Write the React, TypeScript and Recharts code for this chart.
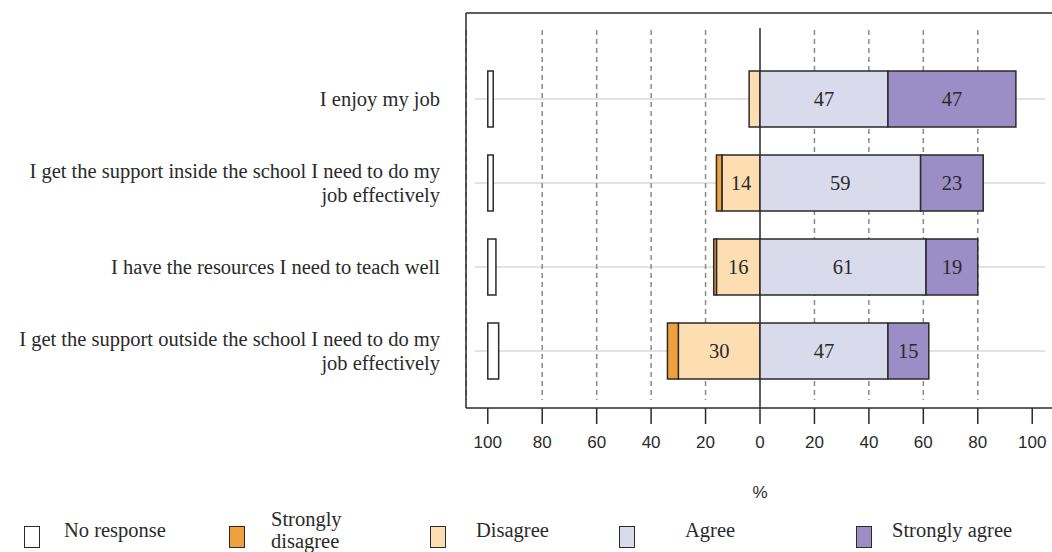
import { BarChart, Bar, XAxis, YAxis, CartesianGrid, LabelList } from "recharts";

const statements = [
  "I enjoy my job",
  "I get the support inside the school I need to do my\njob effectively",
  "I have the resources I need to teach well",
  "I get the support outside the school I need to do my\njob effectively",
];
const noResponse = [2, 2, 3, 4];
const stronglyDisagree = [0, 2, 1, 4];
const disagree = [4, 14, 16, 30];
const agree = [47, 59, 61, 47];
const stronglyAgree = [47, 23, 19, 15];

const xTicks = [-100, -80, -60, -40, -20, 0, 20, 40, 60, 80, 100];

const seriesNames = ["No response", "Strongly\ndisagree", "Disagree", "Agree", "Strongly agree"];
const seriesColors = ["#ffffff", "#efa13d", "#fddeb2", "#d9dbec", "#9b8dc5"];

const data = statements.map((name, i) => ({
  name,
  noResponse: [-100, -100 + noResponse[i]],
  stronglyDisagree: -stronglyDisagree[i],
  disagree: -disagree[i],
  agree: agree[i],
  stronglyAgree: stronglyAgree[i],
}));

const SERIF = '"Liberation Serif", "Times New Roman", serif';
const SANS = '"Liberation Sans", Arial, sans-serif';
const INK = "#2a2a2a";
const legendLeft = [24, 229, 430, 619, 856];
const legendGap = [24, 26, 30, 50, 20];

const StatementTick = (props: any) => {
  const { x, y, payload } = props;
  const lines = String(payload.value).split("\n");
  const lh = 24;
  const start = -((lines.length - 1) * lh) / 2 + 7;
  return (
    <text x={x} y={y} textAnchor="end" fontFamily={SERIF} fontSize={20.5} fill={INK}>
      {lines.map((l, i) => (
        <tspan key={i} x={x} dy={i === 0 ? start : lh}>
          {l}
        </tspan>
      ))}
    </text>
  );
};

const renderValue = (props: any) => {
  const { x, y, width, height, value } = props;
  const v = Math.abs(Number(value));
  if (!(v >= 10)) return null;
  return (
    <text
      x={Number(x) + Number(width) / 2}
      y={Number(y) + Number(height) / 2}
      dy={7}
      textAnchor="middle"
      fontFamily={SERIF}
      fontSize={20.5}
      fill={INK}
    >
      {v}
    </text>
  );
};

// horizontal guide through the middle of each statement's band
const rowCentres = ({ yAxis }: any) => {
  const sc = yAxis?.scale;
  if (!sc) return [];
  const bw = typeof sc.bandwidth === "function" ? sc.bandwidth() : 0;
  const at = (s: string) => (typeof sc === "function" ? sc(s) : sc.map?.(s));
  return statements.map((s) => at(s) + bw / 2).filter((v) => Number.isFinite(v));
};

const horizontalGuide = (p: any) => (
  <line key={p.key} x1={p.x1 + 9} x2={p.x2 - 9} y1={p.y1} y2={p.y2} stroke="#c6c6c6" strokeWidth={1.2} />
);

const verticalGuide = (p: any) => {
  const v = xTicks[p.index];
  if (v === -100 || v === 100) return <g key={p.key} />;
  if (v === 0) {
    return <line key={p.key} x1={p.x1} x2={p.x2} y1={p.y1 + 15} y2={p.y2} stroke={INK} strokeWidth={1.5} />;
  }
  return (
    <line
      key={p.key}
      x1={p.x1}
      x2={p.x2}
      y1={p.y1 + 17}
      y2={p.y2 - 8}
      stroke="#8a8a8a"
      strokeWidth={1.5}
      strokeDasharray="5 4"
    />
  );
};

export default function App() {
  return (
    <div style={{ position: "relative", width: 1052, height: 552, overflow: "hidden", background: "#fff" }}>
      <style>{"body{margin:0}"}</style>
      <BarChart
        width={1060}
        height={552}
        data={data}
        layout="vertical"
        stackOffset="sign"
        barSize={56}
        margin={{ top: 12, right: 6, bottom: 0, left: 0 }}
      >
        <CartesianGrid
          horizontal={horizontalGuide}
          vertical={verticalGuide}
          horizontalCoordinatesGenerator={rowCentres}
        />
        <XAxis
          type="number"
          domain={[-108, 108]}
          ticks={xTicks}
          tickFormatter={(v) => String(Math.abs(v))}
          axisLine={{ stroke: INK, strokeWidth: 1.5 }}
          tickSize={16}
          tickMargin={12}
          tickLine={{ stroke: INK, strokeWidth: 1.5 }}
          tick={{ fill: INK, fontSize: 17, fontFamily: SANS }}
          height={144}
          allowDataOverflow
          label={{ value: "%", position: "insideTop", offset: 78, fill: INK, fontSize: 17, fontFamily: SANS }}
        />
        <XAxis
          xAxisId="top"
          orientation="top"
          type="number"
          domain={[-108, 108]}
          height={1}
          tick={false}
          tickLine={false}
          axisLine={{ stroke: INK, strokeWidth: 1.5 }}
        />
        <YAxis
          type="category"
          dataKey="name"
          width={466}
          axisLine={{ stroke: INK, strokeWidth: 1.5 }}
          tickLine={false}
          tickSize={0}
          tickMargin={26}
          tick={<StatementTick />}
          padding={{ top: 44, bottom: 15 }}
        />
        <YAxis yAxisId="nr" type="category" dataKey="name" hide padding={{ top: 44, bottom: 15 }} />

        <Bar yAxisId="nr" dataKey="noResponse" name={seriesNames[0]} fill={seriesColors[0]} stroke={INK} strokeWidth={1.5} isAnimationActive={false} />
        <Bar dataKey="disagree" name={seriesNames[2]} stackId="s" fill={seriesColors[2]} stroke={INK} strokeWidth={1.5} isAnimationActive={false}>
          <LabelList dataKey="disagree" content={renderValue} />
        </Bar>
        <Bar dataKey="stronglyDisagree" name={seriesNames[1]} stackId="s" fill={seriesColors[1]} stroke={INK} strokeWidth={1.5} isAnimationActive={false} />
        <Bar dataKey="agree" name={seriesNames[3]} stackId="s" fill={seriesColors[3]} stroke={INK} strokeWidth={1.5} isAnimationActive={false}>
          <LabelList dataKey="agree" content={renderValue} />
        </Bar>
        <Bar dataKey="stronglyAgree" name={seriesNames[4]} stackId="s" fill={seriesColors[4]} stroke={INK} strokeWidth={1.5} isAnimationActive={false}>
          <LabelList dataKey="stronglyAgree" content={renderValue} />
        </Bar>
      </BarChart>

      {seriesNames.map((n, i) => (
        <div
          key={n}
          style={{
            position: "absolute",
            left: legendLeft[i],
            top: 510,
            height: 40,
            display: "flex",
            alignItems: "center",
            fontFamily: SERIF,
            fontSize: 20.5,
            color: INK,
          }}
        >
          <span
            style={{
              display: "inline-block",
              width: 14,
              height: 20,
              marginTop: 14,
              background: seriesColors[i],
              border: `1.5px solid ${INK}`,
              marginRight: legendGap[i],
            }}
          />
          <span style={{ whiteSpace: "pre", lineHeight: "22px", marginTop: i === 1 ? 0 : -1 }}>{n}</span>
        </div>
      ))}
    </div>
  );
}
